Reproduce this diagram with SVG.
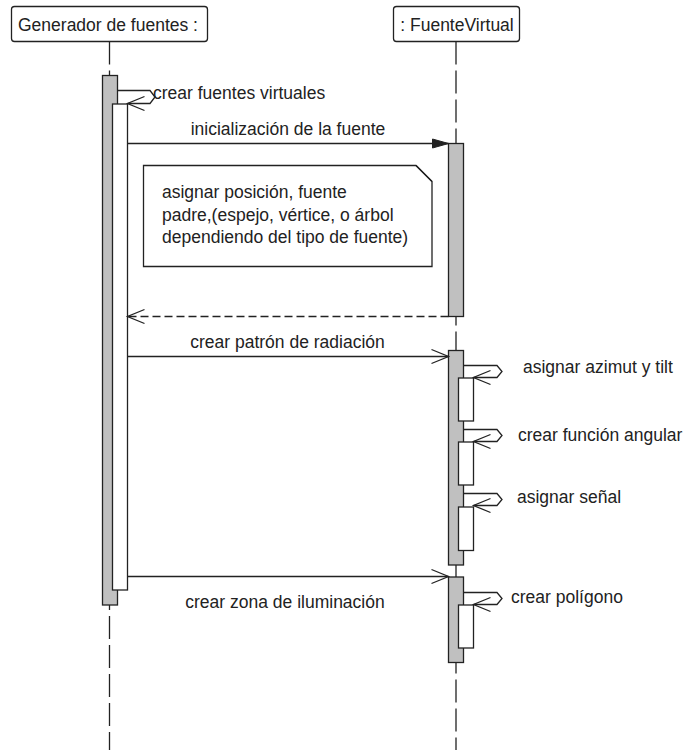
<svg xmlns="http://www.w3.org/2000/svg" width="687" height="750" viewBox="0 0 687 750">
  <style>
    text { font-family: "Liberation Sans", Arial, sans-serif; font-size: 17.5px; fill: #222; }
    .box { fill: #fff; stroke: #222; stroke-width: 1.3; }
    .life { stroke: #222; stroke-width: 1.3; fill: none; stroke-dasharray: 23 6; }
    .act { fill: #c0c0c0; stroke: #222; stroke-width: 1.3; }
    .act2 { fill: #fff; stroke: #222; stroke-width: 1.3; }
    .msg { stroke: #222; stroke-width: 1.3; fill: none; }
    .ret { stroke: #222; stroke-width: 1.3; fill: none; stroke-dasharray: 8 4; }
    .mid { text-anchor: middle; }
  </style>
  <defs>
    <marker id="open" markerUnits="userSpaceOnUse" markerWidth="20" markerHeight="16" refX="17" refY="7" orient="auto" overflow="visible">
      <path d="M0,0 L17,7 L0,14" fill="none" stroke="#222" stroke-width="1.3" stroke-dasharray="none"/>
    </marker>
    <marker id="filled" markerUnits="userSpaceOnUse" markerWidth="18" markerHeight="12" refX="16" refY="4.5" orient="auto" overflow="visible">
      <path d="M0,0 L16,4.5 L0,9 Z" fill="#222" stroke="#222" stroke-width="1"/>
    </marker>
  </defs>
  <rect width="687" height="750" fill="#fff"/>

  <g id="generador">
    <rect class="box" x="11.5" y="6.5" width="196" height="35" rx="3"/>
    <text class="mid" x="108" y="31">Generador de fuentes :</text>
    <line class="life" x1="109.5" y1="41.5" x2="109.5" y2="75"/>
    <line class="life" x1="109.5" y1="605" x2="109.5" y2="750" stroke-dashoffset="18"/>
    <rect class="act" x="102.5" y="75.5" width="15" height="529.5"/>
    <rect class="act2" x="112.5" y="104" width="15" height="486"/>
  </g>

  <g id="fuenteVirtual">
    <rect class="box" x="393.5" y="6.5" width="126" height="35" rx="3"/>
    <text class="mid" x="457" y="31">: FuenteVirtual</text>
    <line class="life" x1="456" y1="41.5" x2="456" y2="750"/>
    <rect class="act" x="448.5" y="143.5" width="15" height="173"/>
    <rect class="act" x="448.5" y="350.5" width="15" height="214.5"/>
    <rect class="act2" x="458.5" y="378" width="15" height="43"/>
    <rect class="act2" x="458.5" y="442" width="15" height="43"/>
    <rect class="act2" x="458.5" y="507" width="15" height="43.5"/>
    <rect class="act" x="448.5" y="577" width="15" height="85.5"/>
    <rect class="act2" x="458.5" y="605" width="15" height="43"/>
  </g>

  <g id="note">
    <path class="box" d="M143.5,165.5 L416,165.5 L432,181.5 L432,266.5 L143.5,266.5 Z"/>
    <path class="msg" d="M416,165.5 L432,181.5"/>
    <text x="162" y="198">asignar posición, fuente</text>
    <text x="162" y="220.5">padre,(espejo, vértice, o árbol</text>
    <text x="162" y="243">dependiendo del tipo de fuente)</text>
  </g>

  <g id="connectors">
    <!-- self: crear fuentes virtuales -->
    <path class="msg" d="M117.5,90.5 L150,90.5 L155,97 L150,103.5 L127.5,103.5" marker-end="url(#open)"/>
    <text x="153" y="99">crear fuentes virtuales</text>

    <!-- inicializacion -->
    <line class="msg" x1="127.5" y1="143.5" x2="448.5" y2="143.5" marker-end="url(#filled)"/>
    <text class="mid" x="288" y="135">inicialización de la fuente</text>

    <!-- return -->
    <line class="ret" x1="448.5" y1="316.5" x2="127.5" y2="316.5" marker-end="url(#open)"/>

    <!-- crear patron -->
    <line class="msg" x1="127.5" y1="356.5" x2="448.5" y2="356.5" marker-end="url(#open)"/>
    <text class="mid" x="287.5" y="348">crear patrón de radiación</text>

    <!-- self: azimut -->
    <path class="msg" d="M463.5,365.5 L497,365.5 L502,371.5 L497,377.5 L473.5,377.5" marker-end="url(#open)"/>
    <text x="523" y="373">asignar azimut y tilt</text>

    <!-- self: funcion angular -->
    <path class="msg" d="M463.5,429.5 L497,429.5 L502,435.5 L497,441.5 L473.5,441.5" marker-end="url(#open)"/>
    <text x="518" y="441">crear función angular</text>

    <!-- self: senal -->
    <path class="msg" d="M463.5,493.5 L497,493.5 L502,499.5 L497,505.5 L473.5,505.5" marker-end="url(#open)"/>
    <text x="517" y="503">asignar señal</text>

    <!-- crear zona -->
    <line class="msg" x1="127.5" y1="576.5" x2="448.5" y2="576.5" marker-end="url(#open)"/>
    <text class="mid" x="285" y="608">crear zona de iluminación</text>

    <!-- self: poligono -->
    <path class="msg" d="M463.5,592.5 L497,592.5 L502,598.5 L497,604.5 L473.5,604.5" marker-end="url(#open)"/>
    <text x="511" y="603">crear polígono</text>
  </g>
</svg>
